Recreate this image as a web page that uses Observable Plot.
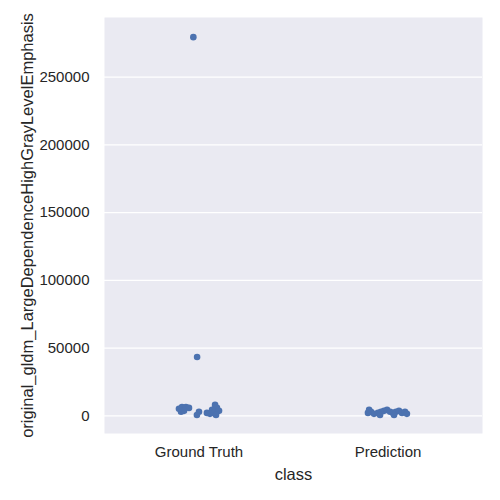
<!DOCTYPE html>
<html><head><meta charset="utf-8">
<script src="https://cdn.jsdelivr.net/npm/d3@7"></script>
<script src="https://cdn.jsdelivr.net/npm/@observablehq/plot@0.6"></script>
<style>
body{margin:0;background:#fff;}
</style>
</head><body>
<div id="chart"></div>
<script>
const categories = ["Ground Truth", "Prediction"];
const gtValues = [279500, 43500, 6600, 6600, 5900, 3000, 3700, 3000, 700, 8100, 5900, 4400, 1500, 2200, 3700, 700, 2200, 5200];
const gtJitter = [-0.03, -0.01, -0.09, -0.069, -0.053, -0.095, -0.079, 0, -0.011, 0.085, 0.095, 0.069, 0.058, 0.079, 0.106, 0.09, 0.042, -0.106];
const predValues = [4400, 3000, 1500, 2200, 3000, 3700, 4400, 3000, 2200, 3000, 3700, 2200, 3000, 1500, 2200, 700, 700];
const predJitter = [-0.10, -0.09, -0.074, -0.053, -0.037, -0.021, -0.005, 0.011, 0.026, 0.042, 0.058, 0.074, 0.09, 0.10, -0.106, -0.042, 0.032];
const yTicks = [0, 50000, 100000, 150000, 200000, 250000];
const yLabel = "original_gldm_LargeDependenceHighGrayLevelEmphasis";
const xLabel = "class";

const data = [
  ...gtValues.map((v, i) => ({cls: 0, j: gtJitter[i], v})),
  ...predValues.map((v, i) => ({cls: 1, j: predJitter[i], v}))
];

const font = "'Liberation Sans', Arial, sans-serif";
const plot = Plot.plot({
  width: 500, height: 500,
  marginLeft: 104, marginRight: 18, marginTop: 17, marginBottom: 67,
  style: {fontFamily: font, fontSize: "15px", color: "#262626", background: "#fff"},
  x: {domain: [-0.5, 1.5]},
  y: {domain: [-13000, 294000]},
  marks: [
    Plot.frame({fill: "#EAEAF2", stroke: null}),
    Plot.gridY(yTicks, {stroke: "#fff", strokeOpacity: 1, strokeWidth: 1.2}),
    Plot.axisY(yTicks, {tickSize: 0, tickPadding: 15, tickFormat: d => String(d), fontSize: 15, label: null}),
    Plot.axisX([0, 1], {tickSize: 0, tickPadding: 13, tickFormat: d => categories[d], fontSize: 15, label: null}),
    Plot.text([yLabel], {frameAnchor: "left", dx: -77, rotate: -90, fontSize: 16.5, fill: "#262626", text: d => d, textAnchor: "middle", lineAnchor: "middle"}),
    Plot.text([xLabel], {frameAnchor: "bottom", dy: 41, fontSize: 16.5, fill: "#262626", text: d => d, textAnchor: "middle", lineAnchor: "middle"}),
    Plot.dot(data, {x: d => d.cls + d.j, y: "v", r: 3.3, fill: "#4C72B0", stroke: null})
  ]
});
document.getElementById("chart").appendChild(plot);
</script>
</body></html>
